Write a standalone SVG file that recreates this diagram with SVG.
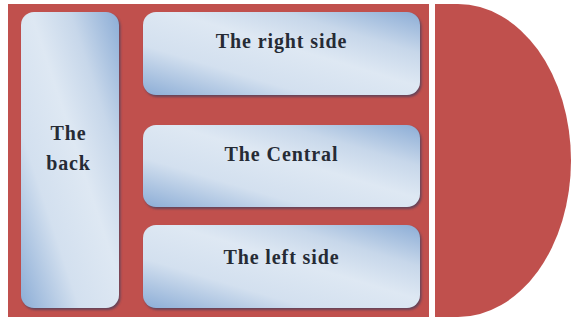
<svg xmlns="http://www.w3.org/2000/svg" width="571" height="320" viewBox="0 0 571 320">
<style>
.bg{fill:#c0504d}
.box{fill:url(#g)}
.sh{fill:#4a3f5c;opacity:0.75;filter:url(#blur)}
.lbl{font-family:"Liberation Serif","Times New Roman",serif;font-weight:bold;font-size:20px;letter-spacing:0.9px;fill:#262b35;text-anchor:middle}
</style>
<defs>
<linearGradient id="g" x1="0" y1="1" x2="1" y2="0">
<stop offset="0" stop-color="#8cadd6"/>
<stop offset="0.3" stop-color="#d3e0ef"/>
<stop offset="0.55" stop-color="#dee8f3"/>
<stop offset="0.75" stop-color="#c7d7ea"/>
<stop offset="1" stop-color="#8cadd6"/>
</linearGradient>
<filter id="blur" x="-10%" y="-10%" width="120%" height="120%"><feGaussianBlur stdDeviation="1"/></filter>
</defs>
<rect x="0" y="0" width="571" height="320" fill="#ffffff"/>
<rect class="bg" x="8" y="4" width="421" height="313"/>
<path class="bg" d="M435,4 H458 A113,156.5 0 0 1 458,317 H435 Z"/>
<g id="back">
<rect class="sh" x="22.5" y="14" width="98" height="296" rx="13"/>
<rect class="box" x="21" y="12" width="98" height="296" rx="13"/>
<text class="lbl" x="68.5" y="140">The</text>
<text class="lbl" x="68.5" y="170">back</text>
</g>
<g id="right-side">
<rect class="sh" x="144.5" y="14" width="277" height="83" rx="13"/>
<rect class="box" x="143" y="12" width="277" height="83" rx="13"/>
<text class="lbl" x="281.5" y="48">The right side</text>
</g>
<g id="central">
<rect class="sh" x="144.5" y="127" width="277" height="82" rx="13"/>
<rect class="box" x="143" y="125" width="277" height="82" rx="13"/>
<text class="lbl" x="281.5" y="161">The Central</text>
</g>
<g id="left-side">
<rect class="sh" x="144.5" y="227" width="277" height="83" rx="13"/>
<rect class="box" x="143" y="225" width="277" height="83" rx="13"/>
<text class="lbl" x="281.5" y="264">The left side</text>
</g>
<g id="connectors"></g>
</svg>
